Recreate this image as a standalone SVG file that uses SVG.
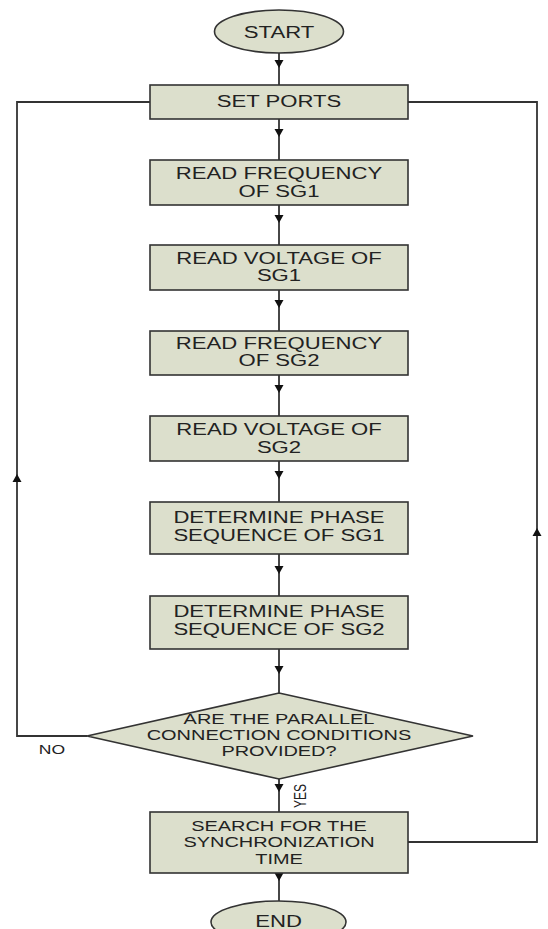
<svg xmlns="http://www.w3.org/2000/svg" width="548" height="929" viewBox="0 0 548 929">
  <style>
    .box { fill: #dcdfcc; stroke: #333333; stroke-width: 1.6; }
    .lbl { font-family: "Liberation Sans", Arial, sans-serif; fill: #222222; text-anchor: middle; }
    .n17 { font-size: 16.5px; }
    .n15 { font-size: 15px; }
    .wire { fill: none; stroke: #333333; stroke-width: 1.8; }
  </style>
  <defs>
    <marker id="arrow" markerUnits="userSpaceOnUse" markerWidth="10" markerHeight="10" viewBox="0 -5 8 10" refX="8" refY="0" orient="auto">
      <path d="M0,-4.5 L8,0 L0,4.5 z" fill="#111111"/>
    </marker>
  </defs>
  <rect width="548" height="929" fill="#ffffff"/>

  <!-- connectors -->
  <g id="connectors">
    <path class="wire" d="M279,53 L279,68" marker-end="url(#arrow)"/>
    <path class="wire" d="M279,68 L279,85"/>
    <path class="wire" d="M279,119 L279,137" marker-end="url(#arrow)"/>
    <path class="wire" d="M279,137 L279,160"/>
    <path class="wire" d="M279,205 L279,223" marker-end="url(#arrow)"/>
    <path class="wire" d="M279,223 L279,245"/>
    <path class="wire" d="M279,290 L279,308" marker-end="url(#arrow)"/>
    <path class="wire" d="M279,308 L279,331"/>
    <path class="wire" d="M279,375 L279,393" marker-end="url(#arrow)"/>
    <path class="wire" d="M279,393 L279,416"/>
    <path class="wire" d="M279,461 L279,479" marker-end="url(#arrow)"/>
    <path class="wire" d="M279,479 L279,502"/>
    <path class="wire" d="M279,554 L279,574" marker-end="url(#arrow)"/>
    <path class="wire" d="M279,574 L279,596"/>
    <path class="wire" d="M279,649 L279,674" marker-end="url(#arrow)"/>
    <path class="wire" d="M279,674 L279,693"/>
    <path class="wire" d="M279,779 L279,792" marker-end="url(#arrow)"/>
    <path class="wire" d="M279,792 L279,812"/>
    <path class="wire" d="M279,873 L279,881" marker-end="url(#arrow)"/>
    <path class="wire" d="M279,881 L279,901"/>
    <!-- NO branch back to SET PORTS -->
    <path class="wire" d="M87,736 L17,736 L17,474" marker-end="url(#arrow)"/>
    <path class="wire" d="M17,474 L17,102 L150,102"/>
    <!-- return from SEARCH back to SET PORTS -->
    <path class="wire" d="M408,842 L537,842 L537,528" marker-end="url(#arrow)"/>
    <path class="wire" d="M537,528 L537,102 L408,102"/>
    <text class="lbl" font-size="13.5" transform="translate(52 754) scale(1.3 1)">NO</text>
    <text class="lbl" font-size="12" transform="translate(306 796) scale(1.3 1) rotate(-90)">YES</text>
  </g>

  <g id="start">
    <ellipse class="box" cx="279" cy="31.5" rx="64.5" ry="21.5"/>
    <text class="lbl n17" transform="translate(279 37.5) scale(1.34 1)">START</text>
  </g>

  <g id="set-ports">
    <rect class="box" x="150" y="85" width="258" height="34"/>
    <text class="lbl n17" transform="translate(279 107) scale(1.34 1)">SET PORTS</text>
  </g>

  <g id="read-freq-sg1">
    <rect class="box" x="150" y="160" width="258" height="45"/>
    <g transform="translate(279 0) scale(1.34 1)">
      <text class="lbl n17" x="0" y="179">READ FREQUENCY</text>
      <text class="lbl n17" x="0" y="197">OF SG1</text>
    </g>
  </g>

  <g id="read-volt-sg1">
    <rect class="box" x="150" y="245" width="258" height="45"/>
    <g transform="translate(279 0) scale(1.34 1)">
      <text class="lbl n17" x="0" y="264">READ VOLTAGE OF</text>
      <text class="lbl n17" x="0" y="281.5">SG1</text>
    </g>
  </g>

  <g id="read-freq-sg2">
    <rect class="box" x="150" y="331" width="258" height="44"/>
    <g transform="translate(279 0) scale(1.34 1)">
      <text class="lbl n17" x="0" y="349">READ FREQUENCY</text>
      <text class="lbl n17" x="0" y="366.5">OF SG2</text>
    </g>
  </g>

  <g id="read-volt-sg2">
    <rect class="box" x="150" y="416" width="258" height="45"/>
    <g transform="translate(279 0) scale(1.34 1)">
      <text class="lbl n17" x="0" y="435">READ VOLTAGE OF</text>
      <text class="lbl n17" x="0" y="452.5">SG2</text>
    </g>
  </g>

  <g id="phase-seq-sg1">
    <rect class="box" x="150" y="502" width="258" height="52"/>
    <g transform="translate(279 0) scale(1.34 1)">
      <text class="lbl n17" x="0" y="523.5">DETERMINE PHASE</text>
      <text class="lbl n17" x="0" y="541">SEQUENCE OF SG1</text>
    </g>
  </g>

  <g id="phase-seq-sg2">
    <rect class="box" x="150" y="596" width="258" height="53"/>
    <g transform="translate(279 0) scale(1.34 1)">
      <text class="lbl n17" x="0" y="617.5">DETERMINE PHASE</text>
      <text class="lbl n17" x="0" y="635">SEQUENCE OF SG2</text>
    </g>
  </g>

  <g id="decision">
    <polygon class="box" points="279,693 473,736 279,779 87,736"/>
    <g transform="translate(279 0) scale(1.33 1)">
      <text class="lbl n15" x="0" y="724.5">ARE THE PARALLEL</text>
      <text class="lbl n15" x="0" y="740.5">CONNECTION CONDITIONS</text>
      <text class="lbl n15" x="0" y="756.5">PROVIDED?</text>
    </g>
  </g>

  <g id="search-sync">
    <rect class="box" x="150" y="812" width="258" height="61"/>
    <g transform="translate(279 0) scale(1.33 1)">
      <text class="lbl n15" x="0" y="831">SEARCH FOR THE</text>
      <text class="lbl n15" x="0" y="847.5">SYNCHRONIZATION</text>
      <text class="lbl n15" x="0" y="864">TIME</text>
    </g>
  </g>

  <g id="end">
    <ellipse class="box" cx="278.5" cy="922" rx="67.5" ry="21"/>
    <text class="lbl n17" transform="translate(278.5 926.5) scale(1.34 1)">END</text>
  </g>
</svg>
